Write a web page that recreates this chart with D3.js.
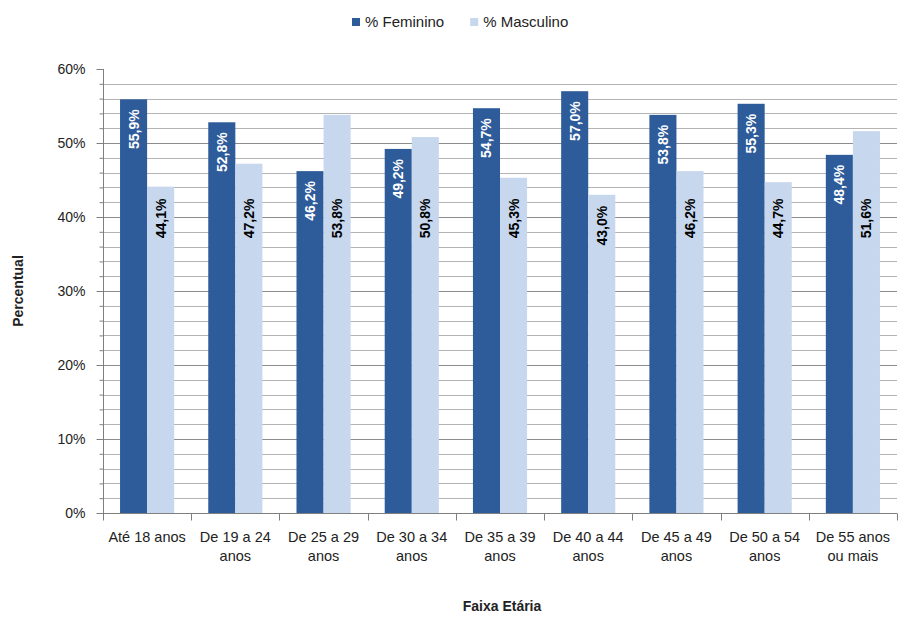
<!DOCTYPE html>
<html>
<head>
<meta charset="utf-8">
<script src="https://cdn.jsdelivr.net/npm/d3@7"></script>
<style>
  html, body { margin: 0; padding: 0; background: #ffffff; }
  svg { display: block; font-family: "Liberation Sans", Arial, sans-serif; }
</style>
</head>
<body>
<svg id="chart" width="898" height="618"></svg>
<script>
// ---- data ----
const categories = [
  ["Até 18 anos"],
  ["De 19 a 24", "anos"],
  ["De 25 a 29", "anos"],
  ["De 30 a 34", "anos"],
  ["De 35 a 39", "anos"],
  ["De 40 a 44", "anos"],
  ["De 45 a 49", "anos"],
  ["De 50 a 54", "anos"],
  ["De 55 anos", "ou mais"]
];
const feminino  = [55.9, 52.8, 46.2, 49.2, 54.7, 57.0, 53.8, 55.3, 48.4];
const masculino = [44.1, 47.2, 53.8, 50.8, 45.3, 43.0, 46.2, 44.7, 51.6];
const seriesNames = ["% Feminino", "% Masculino"];
const yMajorTicks = [0, 10, 20, 30, 40, 50, 60];
const yMinorTicks = d3.range(0, 61, 2);
const yTitle = "Percentual";
const xTitle = "Faixa Etária";

// ---- layout ----
const W = 898, H = 618;
const plot = { left: 103, right: 897, top: 69, bottom: 513 };
const colors = ["#2E5B9A", "#C6D7EE"];

const svg = d3.select("#chart");
const keys = categories.map((c, i) => i);
const x = d3.scaleBand().domain(keys).range([plot.left, plot.right]).padding(0);
const xs = d3.scaleBand().domain([0, 1]).range([0, x.bandwidth()]).paddingInner(0).paddingOuter(0.63);
const y = d3.scaleLinear().domain([0, 60]).range([plot.bottom, plot.top]);

const fmt = v => v.toFixed(1).replace(".", ",") + "%";

// gridlines
svg.append("g").selectAll("line.minor")
  .data(yMinorTicks.filter(t => t > 0 && t < 60 && t % 10 !== 0))
  .join("line")
  .attr("x1", plot.left).attr("x2", plot.right)
  .attr("y1", d => Math.round(y(d)) + 0.5).attr("y2", d => Math.round(y(d)) + 0.5)
  .attr("stroke", "#b4b4b4").attr("stroke-width", 1);
svg.append("g").selectAll("line.major")
  .data(yMajorTicks.filter(t => t > 0 && t < 60))
  .join("line")
  .attr("x1", plot.left).attr("x2", plot.right)
  .attr("y1", d => Math.round(y(d)) + 0.5).attr("y2", d => Math.round(y(d)) + 0.5)
  .attr("stroke", "#8c8c8c").attr("stroke-width", 1);

// bars
const data = keys.map(i => ({ i, vals: [feminino[i], masculino[i]] }));
const groups = svg.append("g").selectAll("g")
  .data(data).join("g")
  .attr("transform", d => `translate(${x(d.i)},0)`);

groups.selectAll("rect")
  .data(d => d.vals.map((v, s) => ({ v, s })))
  .join("rect")
  .attr("x", d => xs(d.s))
  .attr("width", xs.bandwidth())
  .attr("y", d => y(d.v))
  .attr("height", d => y(0) - y(d.v))
  .attr("fill", d => colors[d.s]);

// data labels (rotated)
groups.selectAll("text")
  .data(d => d.vals.map((v, s) => ({ v, s })))
  .join("text")
  .attr("transform", d => {
    const cx = xs(d.s) + xs.bandwidth() / 2 + 5;
    const endY = d.s === 0 ? y(d.v) + 10 : Math.max(y(d.v) + 11, y(42.5));
    return `translate(${cx},${endY}) rotate(-90)`;
  })
  .attr("text-anchor", "end")
  .attr("font-size", "14px")
  .attr("font-weight", "bold")
  .attr("fill", d => d.s === 0 ? "#ffffff" : "#000000")
  .text(d => fmt(d.v));

// y axis
const yAxis = svg.append("g").attr("transform", `translate(${plot.left + 0.5},0)`);
yAxis.call(d3.axisLeft(y).tickValues(yMinorTicks.filter(t => t % 10 !== 0)).tickSize(4).tickFormat(""));
yAxis.call(g => g.select(".domain").remove());
const yAxisMajor = svg.append("g").attr("transform", `translate(${plot.left + 0.5},0)`);
yAxisMajor.call(d3.axisLeft(y).tickValues(yMajorTicks).tickSize(7).tickPadding(11).tickFormat(d => d + "%"));
[yAxis, yAxisMajor].forEach(g => {
  g.selectAll("line").attr("stroke", "#7f7f7f");
  g.selectAll(".domain").attr("stroke", "#7f7f7f").attr("d", `M-0,${y(60)}V${y(0)}`);
  g.selectAll("text").attr("font-size", "14px").attr("fill", "#222").attr("font-family", "'Liberation Sans', Arial, sans-serif");
});

// x axis
const xAxis = svg.append("g").attr("transform", `translate(0,${Math.round(plot.bottom) + 0.5})`);
xAxis.append("line").attr("x1", plot.left).attr("x2", plot.right)
  .attr("stroke", "#7f7f7f");
xAxis.selectAll("line.tick")
  .data(keys.concat([keys.length]))
  .join("line")
  .attr("x1", d => Math.round(d < keys.length ? x(d) : plot.right) + 0.5)
  .attr("x2", d => Math.round(d < keys.length ? x(d) : plot.right) + 0.5)
  .attr("y1", 0).attr("y2", 7)
  .attr("stroke", "#7f7f7f");
const xl = xAxis.selectAll("text")
  .data(keys).join("text")
  .attr("x", d => x(d) + x.bandwidth() / 2)
  .attr("y", 28)
  .attr("text-anchor", "middle")
  .attr("font-size", "14.5px")
  .attr("fill", "#222");
xl.selectAll("tspan")
  .data(d => categories[d])
  .join("tspan")
  .attr("x", function () { return d3.select(this.parentNode).attr("x"); })
  .attr("dy", (d, j) => j === 0 ? 0 : 19)
  .text(d => d);

// axis titles
svg.append("text")
  .attr("x", (plot.left + plot.right) / 2 + 2)
  .attr("y", 611)
  .attr("text-anchor", "middle")
  .attr("font-size", "14px")
  .attr("font-weight", "bold")
  .attr("fill", "#222")
  .text(xTitle);
svg.append("text")
  .attr("transform", `translate(23,${(plot.top + plot.bottom) / 2}) rotate(-90)`)
  .attr("text-anchor", "middle")
  .attr("font-size", "14px")
  .attr("font-weight", "bold")
  .attr("fill", "#222")
  .text(yTitle);

// legend
const legend = svg.append("g").attr("transform", "translate(352,22)");
let lx = 0;
seriesNames.forEach((name, s) => {
  const g = legend.append("g").attr("transform", `translate(${lx},0)`);
  g.append("rect").attr("x", 0).attr("y", -4).attr("width", 8).attr("height", 8).attr("fill", colors[s]);
  const t = g.append("text").attr("x", 13).attr("y", 5)
    .attr("font-size", "15px").attr("fill", "#222").text(name);
  lx += 13 + t.node().getComputedTextLength() + 26;
});
</script>
</body>
</html>
